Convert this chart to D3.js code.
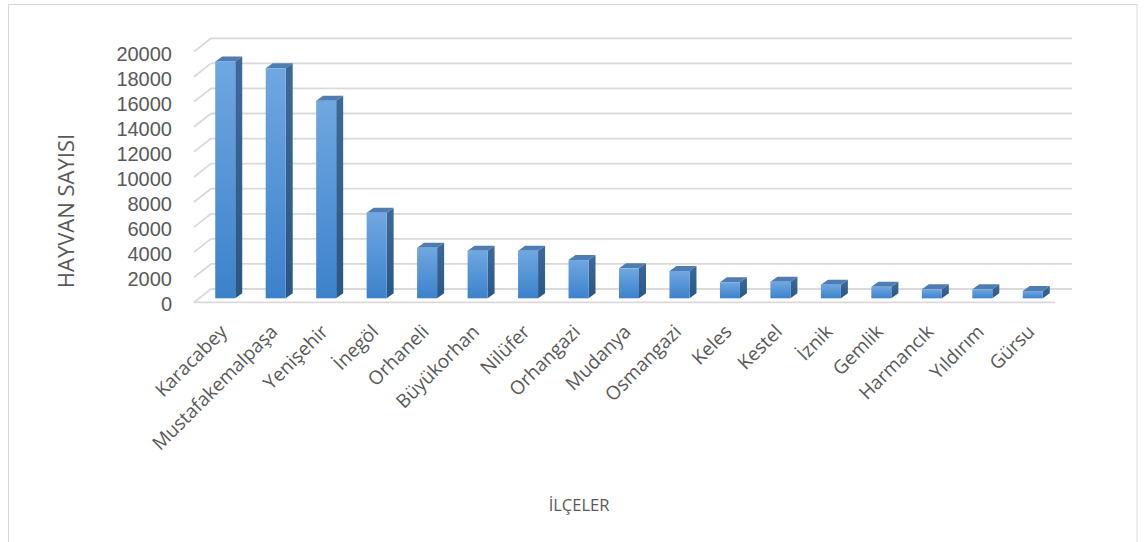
<!DOCTYPE html>
<html><head><meta charset="utf-8">
<script src="https://cdn.jsdelivr.net/npm/d3@7"></script>
<style>
html,body{margin:0;padding:0;background:#fff;}
svg{display:block;}
</style>
</head><body>
<script>
const categories = ["Karacabey","Mustafakemalpaşa","Yenişehir","İnegöl","Orhaneli","Büyükorhan","Nilüfer","Orhangazi","Mudanya","Osmangazi","Keles","Kestel","İznik","Gemlik","Harmancık","Yıldırım","Gürsu"];
const values = [18900,18350,15750,6830,4040,3800,3800,3050,2390,2180,1280,1320,1080,920,720,720,580];
const yTicks = [0,2000,4000,6000,8000,10000,12000,14000,16000,18000,20000];
const yTitle = "HAYVAN SAYISI";
const xTitle = "İLÇELER";

const W = 1144, H = 542;
const svg = d3.select("body").append("svg").attr("width", W).attr("height", H);

// frame
svg.append("rect").attr("x", 8.5).attr("y", 4.5).attr("width", 1128.5).attr("height", 600)
  .attr("fill", "none").attr("stroke", "#d9d9d9").attr("stroke-width", 1);

// geometry
const wallDX = 17, wallDY = -13.3;
const frontLeft = 194, frontRight = 1055;
const yBack = d3.scaleLinear().domain([0, 20000]).range([289, 38.3]);
const barBaseOffset = 9.3;
const x = d3.scaleBand().domain(categories).range([200, 1058]);
const barW = 20, barDX = 7, barDY = -5;

const defs = svg.append("defs");
function grad(id, c1, c2) {
  const g = defs.append("linearGradient").attr("id", id).attr("x1", 0).attr("y1", 0).attr("x2", 0).attr("y2", 1);
  g.append("stop").attr("offset", "0%").attr("stop-color", c1);
  g.append("stop").attr("offset", "100%").attr("stop-color", c2);
}
grad("gFront", "#70a7e0", "#3b82cc");
grad("gSide", "#3d6a9b", "#2a5684");

const grid = svg.append("g").attr("stroke", "#d9d9d9").attr("stroke-width", 1.8).attr("fill", "none");
yTicks.forEach(t => {
  const yb = yBack(t);
  grid.append("line").attr("x1", frontLeft + wallDX).attr("x2", frontRight + wallDX)
    .attr("y1", yb).attr("y2", yb);
  grid.append("line").attr("x1", frontLeft).attr("y1", yb - wallDY)
    .attr("x2", frontLeft + wallDX).attr("y2", yb);
});
// floor front edge
grid.append("line").attr("x1", frontLeft).attr("x2", frontRight)
  .attr("y1", yBack(0) - wallDY).attr("y2", yBack(0) - wallDY);

// y tick labels
svg.append("g").selectAll("text").data(yTicks).join("text")
  .attr("x", 172).attr("y", d => yBack(d) - wallDY + 2)
  .attr("text-anchor", "end").attr("dominant-baseline", "central")
  .attr("font-family", "Liberation Sans, Arial, sans-serif").attr("font-size", 20)
  .attr("fill", "#595959").text(d => d);

// bars
const bars = svg.append("g");
categories.forEach((c, i) => {
  const cx = x(c) + x.bandwidth() / 2;
  const x0 = cx - barW / 2, x1 = cx + barW / 2;
  const yb = yBack(0) + barBaseOffset;
  const yt = yBack(values[i]) + barBaseOffset;
  const g = bars.append("g");
  g.append("polygon").attr("points", [[x1, yt], [x1 + barDX, yt + barDY], [x1 + barDX, yb + barDY], [x1, yb]].join(" "))
    .attr("fill", "url(#gSide)");
  g.append("polygon").attr("points", [[x0, yt], [x1, yt], [x1 + barDX, yt + barDY], [x0 + barDX, yt + barDY]].join(" "))
    .attr("fill", "#4d7db2");
  g.append("rect").attr("x", x0).attr("y", yt).attr("width", barW).attr("height", yb - yt)
    .attr("fill", "url(#gFront)");
});

// category labels
svg.append("g").selectAll("text").data(categories).join("text")
  .attr("transform", d => `translate(${x(d) + x.bandwidth() / 2 - 2},${328}) rotate(-45)`)
  .attr("text-anchor", "end").attr("dominant-baseline", "central")
  .attr("font-family", "Open Sans, sans-serif").attr("font-size", 19)
  .attr("fill", "#595959").text(d => d);

// axis titles
svg.append("text").attr("transform", "translate(65,211) rotate(-90)")
  .attr("text-anchor", "middle").attr("dominant-baseline", "central")
  .attr("font-family", "Open Sans, sans-serif").attr("font-size", 22)
  .attr("fill", "#595959").text(yTitle);
svg.append("text").attr("x", 579).attr("y", 504)
  .attr("text-anchor", "middle").attr("dominant-baseline", "central")
  .attr("font-family", "Open Sans, sans-serif").attr("font-size", 16.5)
  .attr("fill", "#595959").text(xTitle);
</script>
</body></html>
